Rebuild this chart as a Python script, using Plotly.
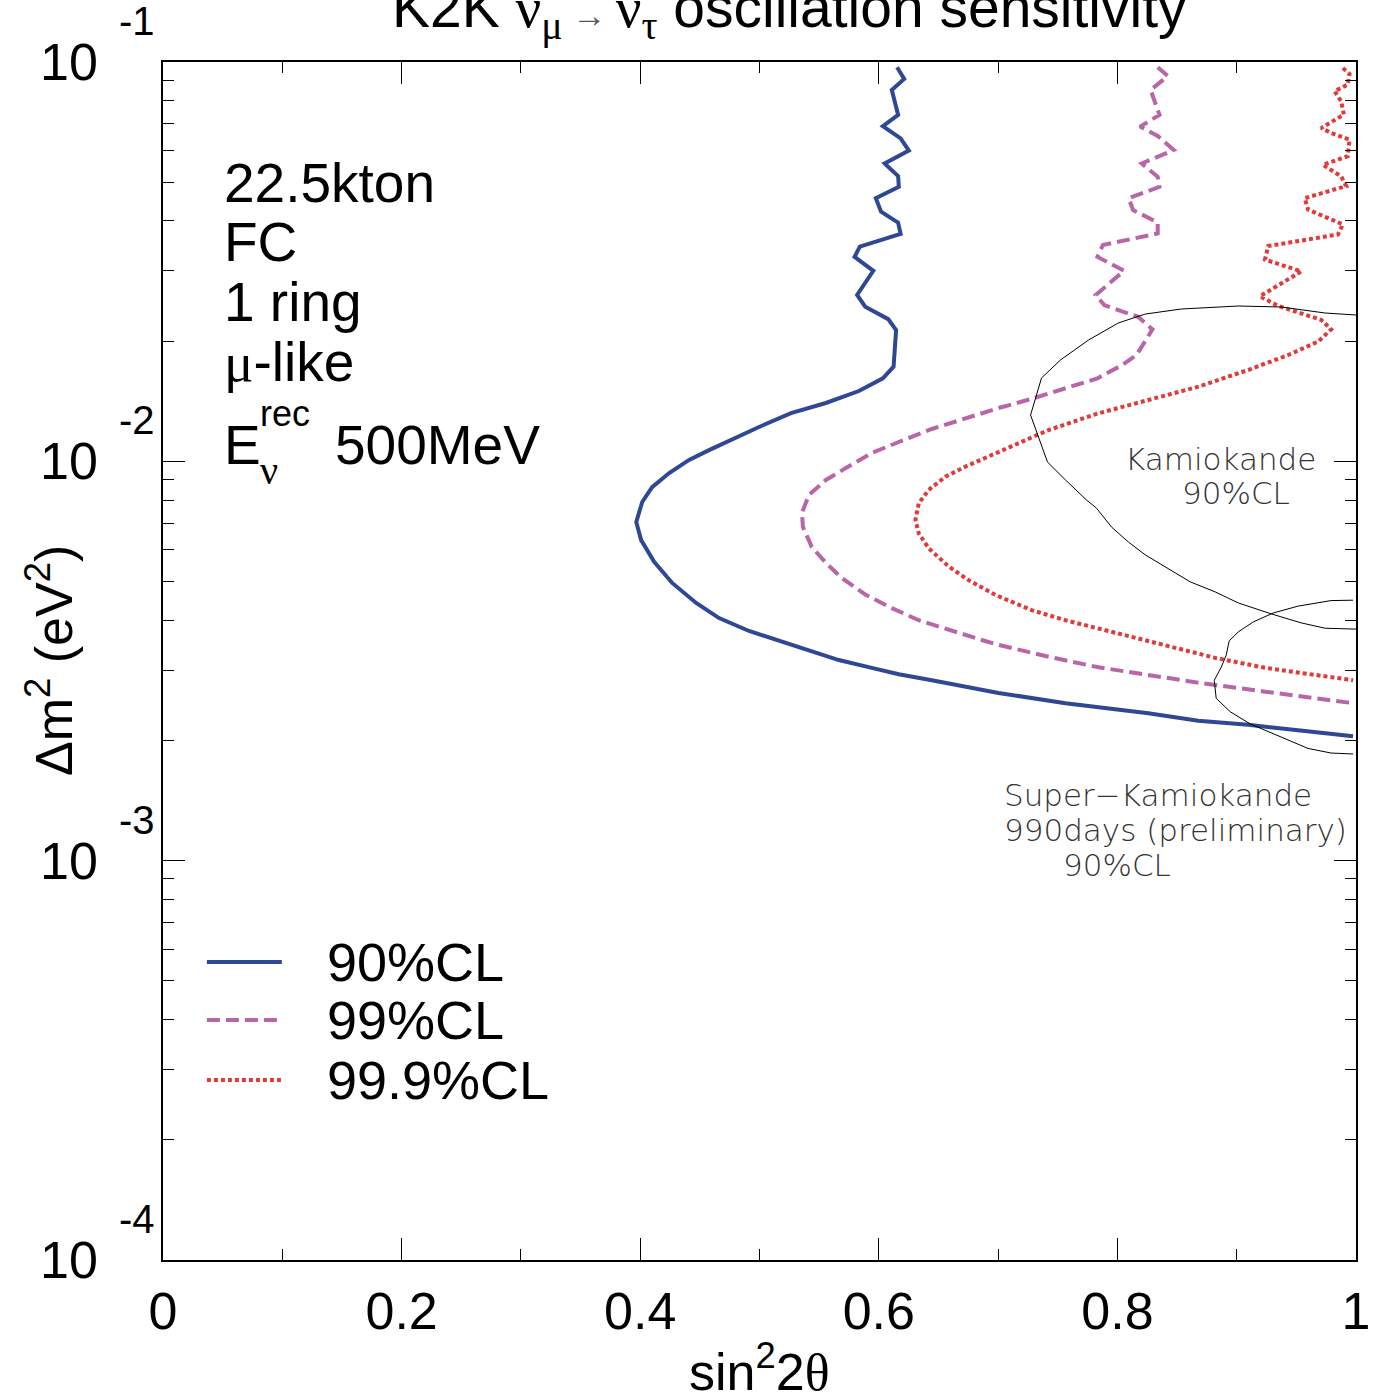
import plotly.graph_objects as go

# ---------------- data ----------------
cl90_x = [0.6153, 0.6213, 0.6109, 0.6162, 0.6034, 0.6183, 0.6252, 0.6049, 0.6162, 0.6168,
          0.5975, 0.6019, 0.6162, 0.6183, 0.5841, 0.5797, 0.5954, 0.5818, 0.5886, 0.6079,
          0.6145, 0.6124, 0.6034, 0.5833, 0.5556, 0.5264, 0.4996, 0.4770, 0.4577, 0.4410,
          0.4243, 0.4100, 0.4017, 0.3967, 0.4008, 0.4117, 0.4268, 0.4469, 0.4661, 0.4912,
          0.5188, 0.5473, 0.5665, 0.5941, 0.6167, 0.6444, 0.6728, 0.7004, 0.7565, 0.8259,
          0.8678, 0.9096, 0.9515, 0.9975]
cl90_y = [0.0970, 0.0907, 0.0851, 0.0737, 0.0691, 0.0644, 0.0600, 0.0557, 0.0518, 0.0487,
          0.0456, 0.0422, 0.0396, 0.0371, 0.0345, 0.0325, 0.0300, 0.0261, 0.0244, 0.0227,
          0.0213, 0.01726, 0.01614, 0.0150, 0.01400, 0.01321, 0.01219, 0.01137, 0.01067, 0.01008,
          0.00935, 0.00862, 0.00791, 0.00705, 0.00635, 0.00560, 0.00496, 0.00442, 0.00405, 0.00376,
          0.00353, 0.00331, 0.00318, 0.00304, 0.00293, 0.00283, 0.00272, 0.00263, 0.00248, 0.00234,
          0.00224, 0.00219, 0.00212, 0.00205]

cl99_x = [0.8338, 0.8422, 0.8279, 0.8353, 0.8190, 0.8338, 0.8472, 0.8204, 0.8338, 0.8353,
          0.8095, 0.8131, 0.8338, 0.8338, 0.7878, 0.7833, 0.8056, 0.7818, 0.7892, 0.8175,
          0.8294, 0.8160, 0.8041, 0.7833, 0.7565, 0.7268, 0.7004, 0.6728, 0.6444, 0.6167,
          0.5941, 0.5724, 0.5556, 0.5414, 0.5356, 0.5364, 0.5439, 0.5556, 0.5690, 0.5891,
          0.6109, 0.6335, 0.6586, 0.6862, 0.7004, 0.7423, 0.7841, 0.8259, 0.8678, 0.9238,
          0.9975]
cl99_y = [0.0970, 0.0922, 0.0851, 0.0737, 0.0689, 0.0653, 0.0602, 0.0557, 0.0516, 0.0487,
          0.0456, 0.0426, 0.0396, 0.0372, 0.0348, 0.0325, 0.0300, 0.0261, 0.0246, 0.0230,
          0.0214, 0.01846, 0.01743, 0.01614, 0.01524, 0.01430, 0.01360, 0.01284, 0.01205, 0.01118,
          0.01049, 0.00962, 0.00898, 0.00824, 0.00743, 0.00685, 0.00610, 0.00557, 0.00510, 0.00463,
          0.00429, 0.00400, 0.00378, 0.00357, 0.00347, 0.00324, 0.00305, 0.00292, 0.00279, 0.00265,
          0.00248]

cl999_x = [0.9890, 0.9946, 0.9931, 0.9820, 0.9876, 0.9898, 0.9709, 0.9792, 0.9946, 0.9931,
           0.9723, 0.9876, 0.9918, 0.9570, 0.9598, 0.9890, 0.9849, 0.9264, 0.9237, 0.9542,
           0.9195, 0.9348, 0.9709, 0.9792, 0.9682, 0.9431, 0.9096, 0.8678, 0.8259, 0.7841,
           0.7423, 0.7004, 0.6726, 0.6558, 0.6418, 0.6335, 0.6307, 0.6335, 0.6418, 0.6586,
           0.6753, 0.6977, 0.7280, 0.7565, 0.7983, 0.8402, 0.8820, 0.9238, 0.9657, 0.9975]
cl999_y = [0.0966, 0.0933, 0.0878, 0.0845, 0.0797, 0.0738, 0.0684, 0.0664, 0.0639, 0.0581,
           0.0553, 0.0517, 0.0489, 0.0456, 0.0427, 0.0392, 0.0370, 0.0346, 0.0320, 0.0299,
           0.0259, 0.0245, 0.0226, 0.0214, 0.01994, 0.01846, 0.01693, 0.01538, 0.01424, 0.01319,
           0.01198, 0.01057, 0.00970, 0.00915, 0.00848, 0.00785, 0.00713, 0.00660, 0.00606, 0.00545,
           0.00504, 0.00463, 0.00424, 0.00400, 0.00372, 0.00347, 0.00322, 0.00304, 0.00292, 0.00283]

kam_x = [1.0, 0.9741, 0.9372, 0.9013, 0.8536, 0.8234, 0.8008, 0.7757, 0.7523, 0.7364,
         0.7272, 0.7414, 0.7565, 0.7741, 0.7824, 0.7950, 0.8092, 0.8234, 0.8611, 0.8820,
         0.9013, 0.9289, 0.9540, 0.9741, 1.0]
kam_y = [0.02325, 0.02352, 0.02435, 0.02449, 0.02407, 0.02338, 0.02221, 0.02012, 0.01794, 0.01617,
         0.01306, 0.00996, 0.00898, 0.00800, 0.00764, 0.00685, 0.00628, 0.00583, 0.00499, 0.00471,
         0.00442, 0.00415, 0.00394, 0.00382, 0.00380]

sk_x = [0.9975, 0.9791, 0.9515, 0.9305, 0.9138, 0.9013, 0.8937, 0.8912, 0.8870, 0.8812,
        0.8828, 0.8946, 0.9113, 0.9372, 0.9598, 0.9791, 0.9975]
sk_y = [0.00449, 0.00448, 0.00434, 0.00417, 0.00396, 0.00374, 0.00355, 0.00327, 0.00305, 0.00283,
        0.00255, 0.00236, 0.00220, 0.00204, 0.00191, 0.00186, 0.00185]

series_names = ["90%CL", "99%CL", "99.9%CL"]
decade_exps = [-1, -2, -3, -4]
info_lines = ["22.5kton", "FC", "1 ring"]

# ---------------- styles ----------------
FONT = "Liberation Sans"
SERIF = "Liberation Serif"
C_BLUE = "#2f4896"
C_MAG = "#b866a8"
C_RED = "#e03a3a"
series_styles = [
    dict(color=C_BLUE, width=4, dash="solid"),
    dict(color=C_MAG, width=4, dash="13px,6px"),
    dict(color=C_RED, width=4, dash="4px,3px"),
]

fig = go.Figure()
for xs, ys, nm, st in zip([cl90_x, cl99_x, cl999_x], [cl90_y, cl99_y, cl999_y],
                          series_names, series_styles):
    fig.add_trace(go.Scatter(x=xs, y=ys, mode="lines", name=nm, line=st,
                             showlegend=False, hoverinfo="skip"))
for xs, ys, nm in [(kam_x, kam_y, "Kamiokande"), (sk_x, sk_y, "Super-Kamiokande")]:
    fig.add_trace(go.Scatter(x=xs, y=ys, mode="lines", name=nm,
                             line=dict(color="black", width=1), showlegend=False,
                             hoverinfo="skip"))

axis_common = dict(showline=True, linecolor="black", linewidth=1.5, mirror="allticks",
                   ticks="inside", ticklen=22, tickwidth=1, tickcolor="black",
                   showgrid=False, zeroline=False)

fig.update_xaxes(range=[0, 1], dtick=0.2, tick0=0,
                 tickfont=dict(family=FONT, size=52, color="black"),
                 ticklabelstandoff=5,
                 minor=dict(ticks="inside", ticklen=11, dtick=0.1, tickcolor="black",
                            showgrid=False),
                 **axis_common)
fig.update_yaxes(type="log", range=[-4, -1], dtick=1, showticklabels=False,
                 minor=dict(ticks="inside", ticklen=11, dtick="D1", tickcolor="black",
                            showgrid=False),
                 **axis_common)

ann = []
# y tick labels 10^n
for e in decade_exps:
    ann.append(dict(text="10", xref="paper", x=0, xanchor="right", xshift=-63,
                    yref="y", y=e, yanchor="middle", showarrow=False,
                    font=dict(family=FONT, size=52, color="black")))
    ann.append(dict(text=str(e), xref="paper", x=0, xanchor="left", xshift=-46,
                    yref="y", y=e, yanchor="middle", yshift=41, showarrow=False,
                    font=dict(family=FONT, size=40, color="black")))

# axis titles
ann.append(dict(text="sin<sup>2</sup>2<span style='font-family:%s'>θ</span>" % SERIF,
                xref="paper", x=0.5, y=0, yref="paper", yanchor="middle", yshift=-108,
                showarrow=False, font=dict(family=FONT, size=52, color="black")))
ann.append(dict(text="Δm<sup>2</sup> (eV<sup>2</sup>)", textangle=-90,
                xref="paper", x=0, xanchor="center", xshift=-113,
                yref="paper", y=0.5, yanchor="middle", showarrow=False,
                font=dict(family=FONT, size=52, color="black")))

# title (partly cut off at the top)
ann.append(dict(text=("K2K <span style='font-family:%s'>ν</span><sub><span style='font-family:%s'>μ</span></sub>"
                      "<span style='font-size:34px;color:#555'> → </span>"
                      "<span style='font-family:%s'>ν</span><sub><span style='font-family:%s'>τ</span></sub>"
                      " oscillation sensitivity") % (SERIF, SERIF, SERIF, SERIF),
                xref="paper", x=0.525, xanchor="center", yref="paper", y=1,
                yanchor="middle", yshift=51, showarrow=False,
                font=dict(family=FONT, size=57, color="black")))

# info block
info_y = [0.899, 0.8497, 0.7997]
for t, yy in zip(info_lines, info_y):
    ann.append(dict(text=t, xref="paper", x=0.0494, xanchor="left", yref="paper", y=yy,
                    yanchor="middle", showarrow=False,
                    font=dict(family=FONT, size=55, color="black")))
ann.append(dict(text="<span style='font-family:%s'>μ</span>-like" % SERIF,
                xref="paper", x=0.0494, xanchor="left", yref="paper", y=0.7496,
                yanchor="middle", showarrow=False,
                font=dict(family=FONT, size=55, color="black")))
ann.append(dict(text="E", xref="paper", x=0.0494, xanchor="left", yref="paper", y=0.6803,
                yanchor="middle", showarrow=False, font=dict(family=FONT, size=55, color="black")))
ann.append(dict(text="rec", xref="paper", x=0.0795, xanchor="left", yref="paper", y=0.7070,
                yanchor="middle", showarrow=False, font=dict(family=FONT, size=36, color="black")))
ann.append(dict(text="ν", xref="paper", x=0.0795, xanchor="left", yref="paper", y=0.6594,
                yanchor="middle", showarrow=False, font=dict(family=SERIF, size=40, color="black")))
ann.append(dict(text="500MeV", xref="paper", x=0.1423, xanchor="left", yref="paper", y=0.6803,
                yanchor="middle", showarrow=False, font=dict(family=FONT, size=55, color="black")))

# experiment labels
thin = dict(family="DejaVu Sans", size=31, color="#333", weight=200)
ann.append(dict(text="Kamiokande", xref="paper", x=0.8862, xanchor="center", yref="paper",
                y=0.6686, yanchor="middle", showarrow=False, font=thin))
ann.append(dict(text="90%CL", xref="paper", x=0.8996, xanchor="center", yref="paper",
                y=0.6402, yanchor="middle", showarrow=False, font=thin))
ann.append(dict(text="Super−Kamiokande", xref="paper", x=0.7029, xanchor="left", yref="paper",
                y=0.3881, yanchor="middle", showarrow=False, font=thin))
ann.append(dict(text="990days (preliminary)", xref="paper", x=0.7029, xanchor="left",
                yref="paper", y=0.3589, yanchor="middle", showarrow=False, font=thin))
ann.append(dict(text="90%CL", xref="paper", x=0.7531, xanchor="left", yref="paper",
                y=0.3297, yanchor="middle", showarrow=False, font=thin))

# manual legend
legend_y = [0.2487, 0.2003, 0.1503]
shapes = []
for nm, st, yy in zip(series_names, series_styles, legend_y):
    shapes.append(dict(type="line", xref="paper", yref="paper", x0=0.0368, x1=0.0996,
                       y0=yy, y1=yy, line=dict(color=st["color"], width=4, dash=st["dash"])))
    ann.append(dict(text=nm, xref="paper", x=0.1356, xanchor="left", yref="paper", y=yy,
                    yanchor="middle", showarrow=False,
                    font=dict(family=FONT, size=54, color="black")))

fig.update_layout(width=1382, height=1394,
                  margin=dict(l=163, r=24, t=62, b=134),
                  paper_bgcolor="white", plot_bgcolor="white",
                  annotations=ann, shapes=shapes, showlegend=False,
                  font=dict(family=FONT, color="black"))

fig.write_html("out.html")
